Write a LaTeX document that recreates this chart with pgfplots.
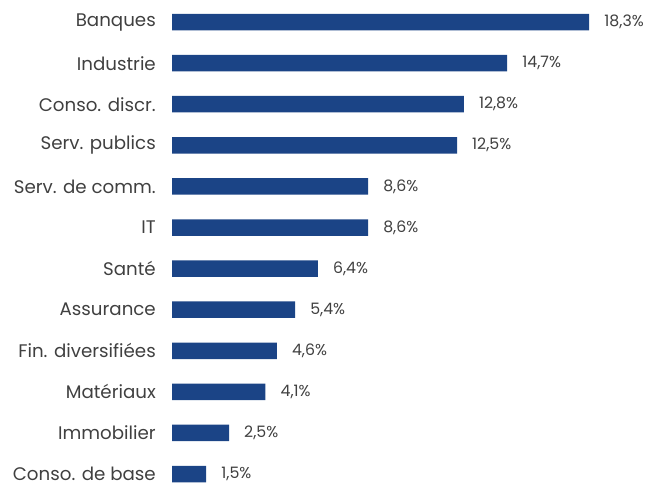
\documentclass[border=0pt]{standalone}
\usepackage{pgfplots}
\pgfplotsset{compat=1.18}
\usepackage{fontspec}
\setmainfont{Poppins}
\definecolor{barblue}{HTML}{1B4486}
\definecolor{txtgray}{HTML}{404040}

\begin{document}
\begin{tikzpicture}
  \begin{axis}[
      at={(172bp,-1.3bp)}, anchor=south west,
      scale only axis,
      width=456bp, height=472.5bp,
      xbar, bar width=16.5bp,
      xmin=0, xmax=20,
      ymin=-0.25, ymax=11.25,
      axis line style={draw=none},
      xtick=\empty,
      ytick={0,...,11},
      yticklabels={Conso. de base,Immobilier,Matériaux,Fin. diversifiées,Assurance,Santé,IT,Serv. de comm.,Serv. publics,Conso. discr.,Industrie,Banques},
      major tick length=0pt,
      yticklabel style={font=\fontsize{18.3}{20}\selectfont, text=txtgray, inner sep=0pt, anchor=east, xshift=-16bp},
      point meta=x,
      /pgf/number format/assume math mode=true,
      nodes near coords={\pgfmathprintnumber[fixed,fixed zerofill,precision=1,use comma]{\pgfplotspointmeta}\%},
      nodes near coords style={font=\fontsize{15.8}{18}\selectfont, text=txtgray, anchor=west, inner sep=0pt, xshift=15bp},
    ]
    \addplot[draw=none, fill=barblue] coordinates {
        (1.5,0)
        (2.5,1)
        (4.1,2)
        (4.6,3)
        (5.4,4)
        (6.4,5)
        (8.6,6)
        (8.6,7)
        (12.5,8)
        (12.8,9)
        (14.7,10)
        (18.3,11)};
  \end{axis}
  \pgfresetboundingbox
  \path (0,0) rectangle (648bp,483bp);
\end{tikzpicture}
\end{document}
